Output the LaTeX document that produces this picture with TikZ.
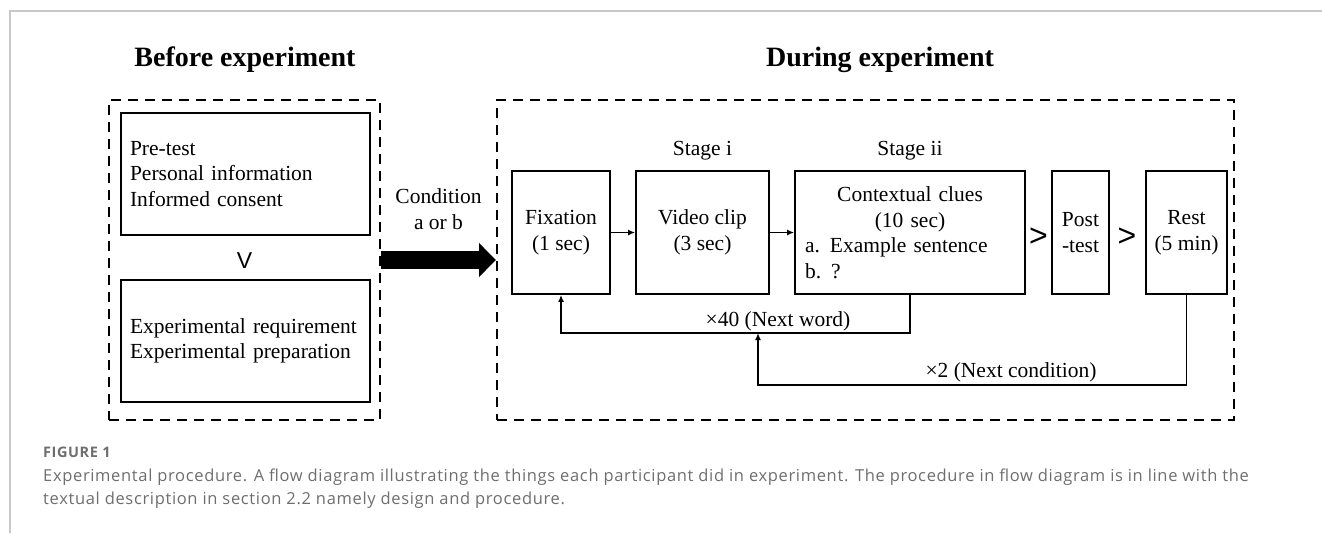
\documentclass[tikz,border=0pt]{standalone}
\usepackage{fontspec}
\setmainfont{Liberation Serif}
\newfontfamily\capfont[LetterSpace=4]{Open Sans}
\newfontfamily\symfont{Liberation Sans}
\usetikzlibrary{arrows.meta}
\usetikzlibrary{positioning}
\definecolor{capgray}{RGB}{110,110,110}
\definecolor{framegray}{RGB}{200,200,200}

\begin{document}
\begin{tikzpicture}[x=1pt,y=-1pt,
  box/.style={draw, line width=1.8pt, align=center, inner sep=0pt,
    minimum height=123pt, font=\fontsize{21.5}{25.5}\selectfont},
  dbox/.style={draw, line width=2pt, dash pattern=on 10pt off 7pt,
    minimum width=#1, minimum height=320pt},
  txt/.style={font=\fontsize{21.5}{25.5}\selectfont},
  flow/.style={line width=1.6pt, -{Latex[length=7pt,width=6pt]}},
  ]
  \def\yb{232.5}
  \useasboundingbox (0,0) rectangle (1322,533);

  %frame
  \draw[framegray, line width=1.5pt] (10,533) -- (10,11) -- (1322,11);

  %titles
  \node[font=\bfseries\fontsize{28}{32}\selectfont] (tbefore) at (245,60) {Before experiment};
  \node[font=\bfseries\fontsize{28}{32}\selectfont] (tduring) at (880,60) {During experiment};

  %Before experiment
  \node[dbox=271pt] (before) at (244.5,260) {};
  \node[box, align=left, text width=231pt, inner xsep=9pt, minimum height=122pt] (pre) at (245.5,174)
    {Pre-test\\Personal information\\Informed consent};
  \node[font=\symfont\fontsize{23}{23}\selectfont] (vee) at (244.5,260.5) {V};
  \node[box, align=left, text width=231pt, inner xsep=9pt, minimum height=122pt] (req) at (245.5,341)
    {Experimental requirement\\Experimental preparation};

  %During experiment
  \node[dbox=737pt] (during) at (865.5,260) {};

  %Condition arrow
  \draw[line width=18pt, -{Triangle[length=17pt,width=33pt]}] (before.east) -- (during.west)
    node[midway, above=18pt, txt, align=center] (cond) {Condition\\a or b};

  %stages
  \node[box, minimum width=98pt] (fix) at (561,\yb) {Fixation\\(1 sec)};
  \node[box, minimum width=133pt] (vid) at (702.5,\yb) {Video clip\\(3 sec)};
  \node[box, text width=210pt, inner xsep=10pt] (ctx) at (910,\yb)
    {Contextual clues\\(10 sec)\\\makebox[210pt][l]{a.\hspace{10pt}Example sentence}\\\makebox[210pt][l]{b.\hspace{10pt}?}};
  \node[box, minimum width=57pt] (post) at (1080.5,\yb) {Post\\-test};
  \node[box, minimum width=81pt] (rest) at (1186.5,\yb) {Rest\\(5 min)};

  \node[txt, above=6pt of vid] (stagei) {Stage i};
  \node[txt, above=6pt of ctx] (stageii) {Stage ii};

  \node[font=\symfont\fontsize{32}{32}\selectfont] (gt1) at (1038.5,237.5) {>};
  \node[font=\symfont\fontsize{32}{32}\selectfont] (gt2) at (1127,237.5) {>};

  \draw[flow] (fix) -- (vid);
  \draw[flow] (vid) -- (ctx);

  %loops
  \coordinate (join) at (758,333);
  \coordinate (turn) at (758,385);
  \draw[flow] (ctx.south) |- (join) -| (fix.south);
  \draw[flow] (rest.south) |- (turn) -- (join);
  \node[txt] (next40) at (778,321) {×40 (Next word)};
  \node[txt] (next2) at (1011,372) {×2 (Next condition)};

  %caption
  \node[anchor=north west, inner sep=0pt, text=capgray,
    font=\capfont\bfseries\fontsize{14.5}{16}\selectfont] (figno) at (43,447) {FIGURE 1};
  \node[anchor=north west, inner sep=0pt, text=capgray, align=left,
    font=\capfont\fontsize{16.5}{23}\selectfont] (caption) at (43,469)
    {Experimental procedure. A flow diagram illustrating the things each participant did in experiment. The procedure in flow diagram is in line with the\\
     textual description in section 2.2 namely design and procedure.};
\end{tikzpicture}
\end{document}
